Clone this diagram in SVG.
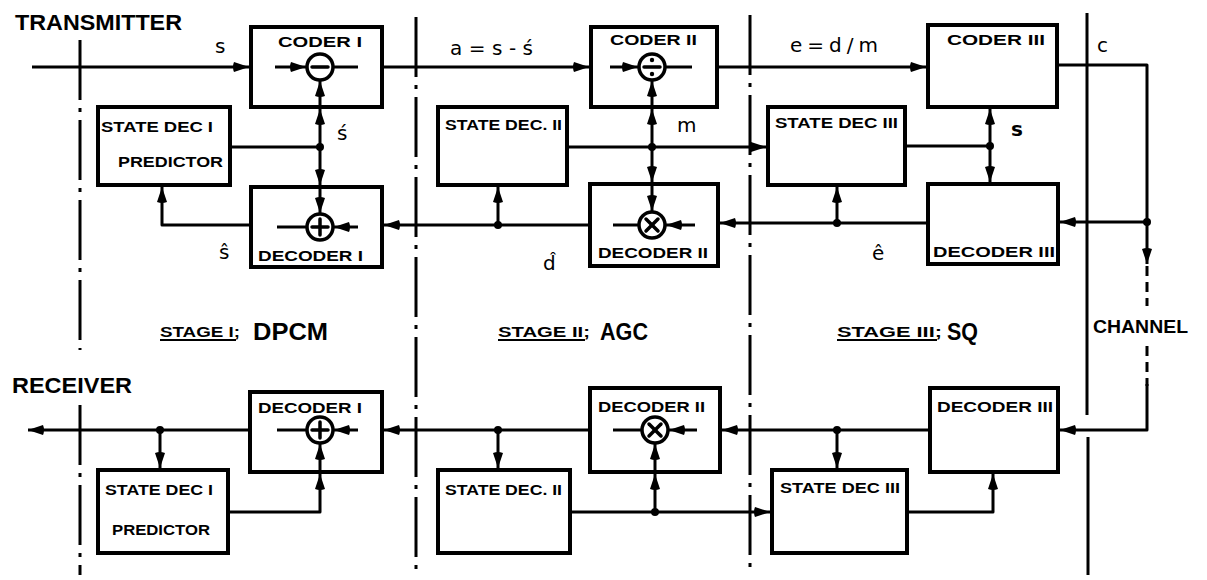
<svg xmlns="http://www.w3.org/2000/svg" width="1207" height="580" viewBox="0 0 1207 580">
<style>
.box{fill:#fff;stroke:#000;stroke-width:4}
.ln{fill:none;stroke:#000;stroke-width:3;stroke-linejoin:round}
.ar{marker-end:url(#ah)}
.dv{fill:none;stroke:#000;stroke-width:3;stroke-dasharray:60 8 4 8}
.dash{fill:none;stroke:#000;stroke-width:3;stroke-dasharray:10 6}
.op{fill:#fff;stroke:#000;stroke-width:3.5}
.sym{stroke:#000;stroke-width:3.5;stroke-linecap:round}
.dot{fill:#000}
.lbl{font-family:"Liberation Sans",Arial,sans-serif;font-weight:bold;font-size:14px;fill:#000}
.big{font-family:"Liberation Sans",Arial,sans-serif;font-weight:bold;fill:#000}
.sig{font-family:"DejaVu Sans",sans-serif;font-size:20px;fill:#000}
</style>
<defs>
<marker id="ah" viewBox="0 0 16 11" refX="16" refY="5.5" markerWidth="16" markerHeight="11" orient="auto" markerUnits="userSpaceOnUse">
<path d="M1,0.5 L16,5.5 L1,10.5 Q-1,5.5 1,0.5Z" fill="#000"/>
</marker>
</defs>

<g id="dividers">
<line class="dv" x1="80" y1="40" x2="80" y2="350"/>
<line class="dv" x1="80" y1="405" x2="80" y2="575"/>
<line class="dv" x1="416" y1="17" x2="416" y2="575"/>
<line class="dv" x1="750" y1="15" x2="750" y2="575"/>
<line class="ln" x1="1087" y1="13" x2="1087" y2="415"/>
<line class="ln" x1="1088" y1="437" x2="1088" y2="575"/>
</g>

<g id="titles">
<text class="big" x="15" y="30" font-size="22" textLength="167" lengthAdjust="spacingAndGlyphs">TRANSMITTER</text>
<text class="big" x="12" y="393" font-size="22" textLength="120" lengthAdjust="spacingAndGlyphs">RECEIVER</text>
<text class="big" x="1093" y="333" font-size="18" textLength="95" lengthAdjust="spacingAndGlyphs">CHANNEL</text>
</g>

<g id="stage-labels">
<text class="big" x="160" y="337" font-size="14" textLength="80" lengthAdjust="spacingAndGlyphs">STAGE I;</text>
<line x1="160" y1="340" x2="236" y2="340" stroke="#000" stroke-width="2"/>
<text class="big" x="253" y="340" font-size="23" textLength="75" lengthAdjust="spacingAndGlyphs">DPCM</text>
<text class="big" x="498" y="337" font-size="14" textLength="92" lengthAdjust="spacingAndGlyphs">STAGE II;</text>
<line x1="498" y1="340" x2="585" y2="340" stroke="#000" stroke-width="2"/>
<text class="big" x="600" y="340" font-size="23" textLength="48" lengthAdjust="spacingAndGlyphs">AGC</text>
<text class="big" x="837" y="337" font-size="14" textLength="105" lengthAdjust="spacingAndGlyphs">STAGE III;</text>
<line x1="837" y1="340" x2="937" y2="340" stroke="#000" stroke-width="2"/>
<text class="big" x="947" y="340" font-size="23" textLength="31" lengthAdjust="spacingAndGlyphs">SQ</text>
</g>

<g id="connectors">
<line class="ln ar" x1="32" y1="67" x2="249" y2="67"/>
<line class="ln ar" x1="384" y1="67" x2="589" y2="67"/>
<line class="ln ar" x1="719" y1="67" x2="926" y2="67"/>
<path class="ln" d="M1059,65 H1147 V222"/>
<line class="ln ar" x1="1147" y1="222" x2="1060" y2="222"/>
<line class="ln ar" x1="1147" y1="222" x2="1147" y2="264"/>
<line class="dash" x1="1147" y1="266" x2="1147" y2="306"/>
<line class="dash" x1="1147" y1="346" x2="1147" y2="386"/>
<path class="ln ar" d="M1147,384 V430 H1060"/>
<line class="ln" x1="230" y1="147" x2="320" y2="147"/>
<line class="ln ar" x1="320" y1="147" x2="320" y2="109"/>
<line class="ln ar" x1="320" y1="147" x2="320" y2="185"/>
<path class="ln ar" d="M249,225 H162 V187"/>
<line class="ln ar" x1="567" y1="147" x2="766" y2="147"/>
<line class="ln ar" x1="652" y1="147" x2="652" y2="109"/>
<line class="ln ar" x1="652" y1="147" x2="652" y2="182"/>
<line class="ln ar" x1="588" y1="225" x2="384" y2="225"/>
<line class="ln ar" x1="498" y1="225" x2="498" y2="187"/>
<line class="ln" x1="905" y1="146" x2="990" y2="146"/>
<line class="ln ar" x1="990" y1="146" x2="990" y2="109"/>
<line class="ln ar" x1="990" y1="146" x2="990" y2="182"/>
<line class="ln ar" x1="926" y1="223" x2="720" y2="223"/>
<line class="ln ar" x1="837" y1="223" x2="837" y2="187"/>
<line class="ln ar" x1="928" y1="430" x2="722" y2="430"/>
<line class="ln ar" x1="837" y1="430" x2="837" y2="468"/>
<path class="ln ar" d="M909,512 H993 V474"/>
<line class="ln ar" x1="588" y1="430" x2="384" y2="430"/>
<line class="ln ar" x1="498" y1="430" x2="498" y2="468"/>
<line class="ln ar" x1="572" y1="512" x2="770" y2="512"/>
<line class="ln ar" x1="655" y1="512" x2="655" y2="474"/>
<line class="ln ar" x1="248" y1="430" x2="28" y2="430"/>
<line class="ln ar" x1="160" y1="430" x2="160" y2="468"/>
<path class="ln ar" d="M230,512 H320 V474"/>
<circle class="dot" cx="320" cy="147" r="4"/>
<circle class="dot" cx="652" cy="147" r="4"/>
<circle class="dot" cx="990" cy="146" r="4"/>
<circle class="dot" cx="1147" cy="222" r="4"/>
<circle class="dot" cx="837" cy="223" r="4"/>
<circle class="dot" cx="498" cy="225" r="4"/>
<circle class="dot" cx="837" cy="430" r="4"/>
<circle class="dot" cx="498" cy="430" r="4"/>
<circle class="dot" cx="160" cy="430" r="4"/>
<circle class="dot" cx="655" cy="512" r="4"/>
</g>

<g id="signal-labels">
<text class="sig" x="215" y="53">s</text>
<text class="sig" x="450" y="55" textLength="83" lengthAdjust="spacing">a=s-ś</text>
<text class="sig" x="790" y="52" textLength="88" lengthAdjust="spacing">e=d/m</text>
<text class="sig" x="1097" y="52">c</text>
<text class="sig" x="337" y="140">ś</text>
<text class="sig" x="677" y="132">m</text>
<text class="sig" x="1011" y="136" font-weight="bold">s</text>
<text class="sig" x="219" y="259">ŝ</text>
<text class="sig" x="543" y="270">d̂</text>
<text class="sig" x="872" y="260">ê</text>
</g>

<g id="coder1">
<rect class="box" x="251" y="27" width="131" height="80"/>
<text class="lbl" x="278" y="47" textLength="84" lengthAdjust="spacingAndGlyphs">CODER I</text>
<line class="ln ar" x1="275" y1="67" x2="306" y2="67"/>
<line class="ln" x1="334" y1="67" x2="358" y2="67"/>
<line class="ln ar" x1="320" y1="106" x2="320" y2="81"/>
<circle class="op" cx="320" cy="67" r="13"/>
<line class="sym" x1="312" y1="67" x2="328" y2="67" stroke-width="4.5"/>
</g>

<g id="coder2">
<rect class="box" x="591" y="27" width="126" height="80"/>
<text class="lbl" x="610" y="45" textLength="87" lengthAdjust="spacingAndGlyphs">CODER II</text>
<line class="ln ar" x1="610" y1="67" x2="638" y2="67"/>
<line class="ln" x1="666" y1="67" x2="692" y2="67"/>
<line class="ln ar" x1="652" y1="106" x2="652" y2="81"/>
<circle class="op" cx="652" cy="67" r="13"/>
<line class="sym" x1="644" y1="67" x2="660" y2="67"/>
<circle class="dot" cx="652" cy="60" r="2.2"/>
<circle class="dot" cx="652" cy="74" r="2.2"/>
</g>

<g id="coder3">
<rect class="box" x="928" y="25" width="129" height="82"/>
<text class="lbl" x="947" y="45" textLength="98" lengthAdjust="spacingAndGlyphs">CODER III</text>
</g>

<g id="statedec1-tx">
<rect class="box" x="98" y="107" width="132" height="78"/>
<text class="lbl" x="101" y="132" textLength="112" lengthAdjust="spacingAndGlyphs">STATE DEC I</text>
<text class="lbl" x="118" y="167" textLength="105" lengthAdjust="spacingAndGlyphs">PREDICTOR</text>
</g>

<g id="statedec2-tx">
<rect class="box" x="438" y="107" width="129" height="78"/>
<text class="lbl" x="445" y="130" textLength="117" lengthAdjust="spacingAndGlyphs">STATE DEC. II</text>
</g>

<g id="statedec3-tx">
<rect class="box" x="768" y="107" width="137" height="78"/>
<text class="lbl" x="775" y="128" textLength="123" lengthAdjust="spacingAndGlyphs">STATE DEC III</text>
</g>

<g id="decoder1-tx">
<rect class="box" x="251" y="187" width="131" height="80"/>
<text class="lbl" x="258" y="261" textLength="105" lengthAdjust="spacingAndGlyphs">DECODER I</text>
<line class="ln ar" x1="320" y1="189" x2="320" y2="213"/>
<line class="ln ar" x1="358" y1="227" x2="334" y2="227"/>
<line class="ln" x1="306" y1="227" x2="277" y2="227"/>
<circle class="op" cx="320" cy="227" r="13"/>
<line class="sym" x1="312" y1="227" x2="328" y2="227"/>
<line class="sym" x1="320" y1="219" x2="320" y2="235"/>
</g>

<g id="decoder2-tx">
<rect class="box" x="590" y="184" width="128" height="82"/>
<text class="lbl" x="598" y="258" textLength="110" lengthAdjust="spacingAndGlyphs">DECODER II</text>
<line class="ln ar" x1="652" y1="186" x2="652" y2="211"/>
<line class="ln ar" x1="695" y1="225" x2="666" y2="225"/>
<line class="ln" x1="638" y1="225" x2="613" y2="225"/>
<circle class="op" cx="652" cy="225" r="13"/>
<line class="sym" x1="646" y1="219" x2="658" y2="231"/>
<line class="sym" x1="658" y1="219" x2="646" y2="231"/>
</g>

<g id="decoder3-tx">
<rect class="box" x="928" y="184" width="130" height="80"/>
<text class="lbl" x="933" y="257" textLength="122" lengthAdjust="spacingAndGlyphs">DECODER III</text>
</g>

<g id="decoder1-rx">
<rect class="box" x="250" y="392" width="132" height="80"/>
<text class="lbl" x="258" y="413" textLength="104" lengthAdjust="spacingAndGlyphs">DECODER I</text>
<line class="ln ar" x1="320" y1="470" x2="320" y2="444"/>
<line class="ln ar" x1="358" y1="430" x2="334" y2="430"/>
<line class="ln" x1="306" y1="430" x2="277" y2="430"/>
<circle class="op" cx="320" cy="430" r="13"/>
<line class="sym" x1="312" y1="430" x2="328" y2="430"/>
<line class="sym" x1="320" y1="422" x2="320" y2="438"/>
</g>

<g id="decoder2-rx">
<rect class="box" x="590" y="388" width="130" height="84"/>
<text class="lbl" x="598" y="412" textLength="107" lengthAdjust="spacingAndGlyphs">DECODER II</text>
<line class="ln ar" x1="655" y1="470" x2="655" y2="444"/>
<line class="ln ar" x1="697" y1="430" x2="669" y2="430"/>
<line class="ln" x1="641" y1="430" x2="613" y2="430"/>
<circle class="op" cx="655" cy="430" r="13"/>
<line class="sym" x1="649" y1="424" x2="661" y2="436"/>
<line class="sym" x1="661" y1="424" x2="649" y2="436"/>
</g>

<g id="decoder3-rx">
<rect class="box" x="930" y="388" width="128" height="84"/>
<text class="lbl" x="937" y="412" textLength="116" lengthAdjust="spacingAndGlyphs">DECODER III</text>
</g>

<g id="statedec1-rx">
<rect class="box" x="98" y="470" width="130" height="83"/>
<text class="lbl" x="105" y="495" textLength="108" lengthAdjust="spacingAndGlyphs">STATE DEC I</text>
<text class="lbl" x="112" y="535" textLength="98" lengthAdjust="spacingAndGlyphs">PREDICTOR</text>
</g>

<g id="statedec2-rx">
<rect class="box" x="438" y="470" width="132" height="83"/>
<text class="lbl" x="445" y="495" textLength="117" lengthAdjust="spacingAndGlyphs">STATE DEC. II</text>
</g>

<g id="statedec3-rx">
<rect class="box" x="772" y="470" width="135" height="83"/>
<text class="lbl" x="780" y="493" textLength="120" lengthAdjust="spacingAndGlyphs">STATE DEC III</text>
</g>
</svg>
